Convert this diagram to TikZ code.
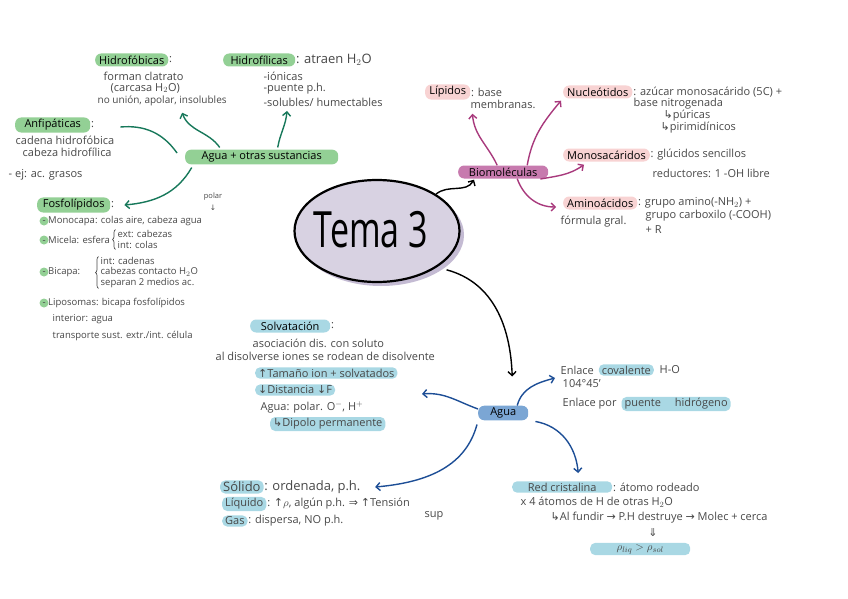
\documentclass[tikz,border=0pt]{standalone}
\usepackage{fontspec}
\setmainfont{Open Sans}
\newfontfamily\symf{DejaVu Sans}
\usetikzlibrary{arrows.meta,shapes.geometric,positioning,decorations.pathreplacing}
\definecolor{tinta}{HTML}{474747}
\definecolor{verde}{HTML}{93D095}
\definecolor{verdeo}{HTML}{17785A}
\definecolor{lila}{HTML}{D8D2E2}
\definecolor{lilao}{HTML}{C4BBD3}
\definecolor{fucsia}{HTML}{C77AAE}
\definecolor{fucsiao}{HTML}{A8397C}
\definecolor{rosa}{HTML}{F8D3D3}
\definecolor{azul}{HTML}{7BA6D4}
\definecolor{azulo}{HTML}{1D4E96}
\definecolor{celeste}{HTML}{A9D8E4}
\newcommand{\flup}{{\symf ↑}}
\newcommand{\fldown}{{\symf ↓}}
\newcommand{\flsub}{{\symf ↳}}
\newcommand{\flimp}{{\symf ⇒}}
\newcommand{\flder}{{\symf →}}
\newcommand{\flabajo}{{\symf ⇓}}
\newcommand{\grande}{\fontsize{13}{14}\selectfont}
\newcommand{\chico}{\fontsize{10}{11}\selectfont}
\newcommand{\mini}{\fontsize{9.5}{10}\selectfont}
\tikzset{
  every node/.style={font=\fontsize{11}{12}\selectfont, text=tinta, inner sep=0.5pt},
  txt/.style={anchor=west},
  pill/.style={fill=#1, rounded corners=6pt, minimum height=13pt, inner xsep=4pt,
    inner ysep=2pt, anchor=west, text=black},
  hl/.style={fill=#1, rounded corners=5pt, inner xsep=3pt, inner ysep=1.5pt, anchor=west},
  link/.style={draw=#1, line width=1.4pt, -{Straight Barb[length=4pt,width=8pt]}},
  llave/.style={draw=tinta, line width=0.7pt, decorate, decoration={brace, amplitude=3pt}},
}
\begin{document}
\begin{tikzpicture}[x=1pt,y=1pt]
\useasboundingbox (0,0) rectangle (848,-599);

% Tema central
\fill[lilao] (381,-235) ellipse [x radius=83pt, y radius=51pt];
\node[ellipse, draw=black, line width=2.2pt, fill=lila, minimum width=165pt,
  minimum height=102pt, inner sep=0pt] (tema) at (377,-231) {};
\node[text=black] (tematxt) at (371,-230) {\scalebox{0.68}[1]{\fontsize{50}{50}\selectfont Tema 3}};

% Agua + otras sustancias
\node[pill=verde, minimum width=153pt] (agotras) at (185,-157) {Agua + otras sustancias};

\node[pill=verde, minimum width=70pt] (hfob) at (95,-60) {Hidrofóbicas};
\node[right=0pt of hfob] (hfobc) {:};
\node[txt] (clatr) at (103,-76) {forman clatrato};
\node[txt] (carc) at (110,-88) {(carcasa H$_2$O)};
\node[txt, font=\chico] (nounion) at (97,-101) {no unión, apolar, insolubles};

\node[pill=verde, minimum width=72pt] (hfil) at (223,-60) {Hidrofílicas};
\node[right=0pt of hfil, font=\grande] (hfilt) {: atraen H$_2$O};
\node[txt] (ionic) at (263,-76) {-iónicas};
\node[txt] (puen) at (263,-89) {-puente p.h.};
\node[txt] (solub) at (263,-102) {-solubles/ humectables};

\node[pill=verde, minimum width=75pt] (anfi) at (15,-125) {Anfipáticas};
\node[right=0pt of anfi] (anfic) {:};
\node[txt] (cadh) at (15,-140) {cadena hidrofóbica};
\node[txt] (cabh) at (22,-152) {cabeza hidrofílica};
\node[txt] (ej) at (8,-175) {- ej: ac. grasos};

\node[pill=verde, minimum width=73pt] (fosfo) at (37,-205) {Fosfolípidos};
\node[right=0pt of fosfo] (fosfoc) {:};
\node[font=\fontsize{7.5}{8}\selectfont] (polar) at (213,-197) {polar};
\node[font=\fontsize{7.5}{8}\selectfont] (polarf) at (213,-208) {\fldown};
\fill[verde] (44,-221) circle (4.5pt);
\node[txt, font=\mini] (monoc) at (42,-221) {- Monocapa: colas aire, cabeza agua};
\fill[verde] (44,-240) circle (4.5pt);
\node[txt, font=\mini] (micela) at (42,-240) {- Micela: esfera};
\node[txt, font=\mini] (micext) at (117,-234) {ext: cabezas};
\node[txt, font=\mini] (micint) at (117,-245) {int: colas};
\draw[llave] ([xshift=-1.5pt]micint.south west) -- ([xshift=-1.5pt]micext.north west);
\fill[verde] (44,-272) circle (4.5pt);
\node[txt, font=\mini] (bicapa) at (42,-272) {- Bicapa:};
\node[txt, font=\mini] (bic1) at (100,-261) {int: cadenas};
\node[txt, font=\mini] (bic2) at (100,-272) {cabezas contacto H$_2$O};
\node[txt, font=\mini] (bic3) at (100,-283) {separan 2 medios ac.};
\draw[llave] ([xshift=-1.5pt]bic3.south west) -- ([xshift=-1.5pt]bic1.north west);
\fill[verde] (44,-303) circle (4.5pt);
\node[txt, font=\mini] (lipos) at (42,-303) {- Liposomas: bicapa fosfolípidos};
\node[txt, font=\mini] (inter) at (52,-319) {interior: agua};
\node[txt, font=\mini] (transp) at (52,-336) {transporte sust. extr./int. célula};

\draw[link=verdeo] ([xshift=-42pt,yshift=2pt]agotras.north) to[out=125,in=-70] ([xshift=20pt,yshift=-6pt]nounion.south);
\draw[link=verdeo] ([xshift=16pt,yshift=2pt]agotras.north) to[out=80,in=-95] ([xshift=24pt,yshift=-4pt]solub.south west);
\draw[verdeo, line width=1.4pt] ([xshift=30pt,yshift=-2pt]anfi.east) to[out=5,in=125] ([xshift=-8pt,yshift=4pt]agotras.west);
\draw[link=verdeo] ([xshift=-70pt,yshift=-3pt]agotras.south) to[out=-120,in=5] ([xshift=14pt]fosfo.east);

% Biomoleculas
\node[pill=fucsia, minimum width=90pt] (bio) at (458,-172) {Biomoléculas};
\draw[link=black] (tema.32) to[out=40,in=-120] ([xshift=16pt,yshift=-1pt]bio.south west);

\node[pill=rosa, minimum width=45pt] (lip) at (425,-92) {Lípidos};
\node[right=0pt of lip] (lipt) {: base};
\node[txt] (memb) at (470,-104) {membranas.};

\node[pill=rosa, minimum width=62pt] (nuc) at (563,-92) {Nucleótidos};
\node[right=0pt of nuc] (nuct) {: azúcar monosacárido (5C) +};
\node[txt] (nucb) at (633,-104) {base nitrogenada};
\node[txt] (pur) at (663,-116) {\flsub púricas};
\node[txt] (pirim) at (660,-128) {\flsub pirimidínicos};

\node[pill=rosa, minimum width=82pt] (mono) at (563,-155) {Monosacáridos};
\node[right=0pt of mono] (monot) {: glúcidos sencillos};
\node[txt] (reduc) at (652,-173) {reductores: 1 -OH libre};

\node[pill=rosa, minimum width=67pt] (amino) at (563,-203) {Aminoácidos};
\node[right=0pt of amino] (aminot) {: grupo amino(-NH$_2$) +};
\node[txt] (formula) at (560,-222) {fórmula gral.};
\node[txt] (carbox) at (645,-216) {grupo carboxilo (-COOH)};
\node[txt] (masr) at (645,-230) {+ R};

\draw[link=fucsiao] ([xshift=-6pt]bio.north) to[out=115,in=-85] ([xshift=2pt,yshift=-14pt]lip.south east);
\draw[link=fucsiao] ([xshift=24pt]bio.north) to[out=80,in=-130] ([xshift=-2pt,yshift=-2pt]nuc.south west);
\draw[link=fucsiao] ([xshift=-8pt,yshift=-7pt]bio.east) to[out=10,in=-145] ([xshift=21pt,yshift=-3pt]mono.south west);
\draw[link=fucsiao] ([xshift=14pt]bio.south) to[out=-70,in=180] ([xshift=-7pt,yshift=-4pt]amino.west);

% Agua
\node[pill=azul, minimum width=50pt] (agua) at (478,-413) {Agua};
\draw[link=black] ([xshift=6pt,yshift=-5pt]tema.-28) to[out=-15,in=92] ([xshift=9pt,yshift=29pt]agua.north);

\node[txt] (enl) at (560,-370) {Enlace};
\node[hl=celeste, right=4pt of enl] (cov) {covalente};
\node[right=5pt of cov] (ho) {H-O};
\node[txt] (ang) at (562,-384) {104°45'};
\node[txt] (enlp) at (562,-404) {Enlace por};
\node[hl=celeste, right=4pt of enlp] (puenh) {puente \quad hidrógeno};

\node[pill=celeste, minimum width=80pt] (solv) at (250,-326) {Solvatación};
\node[right=0pt of solv] (solvc) {:};
\node[txt] (asoc) at (252,-343) {asociación dis. con soluto};
\node[txt] (disol) at (215,-356) {al disolverse iones se rodean de disolvente};
\node[hl=celeste] (tam) at (255,-373) {\flup Tamaño ion + solvatados};
\node[hl=celeste] (dist) at (255,-390) {\fldown Distancia \fldown F};
\node[txt] (agpol) at (260,-407) {Agua: polar. O$^-$, H$^+$};
\node[hl=celeste] (dipolo) at (270,-424) {\flsub Dipolo permanente};
\coordinate (solvp) at (422,-394);

\node[hl=celeste, font=\grande] (sol) at (220,-487) {Sólido};
\node[right=0pt of sol, font=\grande] (solt) {: ordenada, p.h.};
\node[hl=celeste] (liq) at (222,-504) {Líquido};
\node[right=0pt of liq] (liqt) {: \flup$\rho$, algún p.h. \flimp\ \flup Tensión};
\node[txt] (sup) at (424,-516) {sup};
\node[hl=celeste] (gas) at (222,-521) {Gas};
\node[right=0pt of gas] (gast) {: dispersa, NO p.h.};

\node[hl=celeste, minimum width=100pt] (red) at (512,-487) {Red cristalina};
\node[right=0pt of red] (redt) {: átomo rodeado};
\node[txt] (x4) at (520,-502) {x 4 átomos de H de otras H$_2$O};
\node[txt] (fundir) at (550,-518) {\flsub Al fundir \flder\ P.H destruye \flder\ Molec + cerca};
\node (impl) at (653,-533) {\flabajo};
\node[hl=celeste, minimum width=100pt] (rho) at (590,-549) {$\rho_{liq} > \rho_{sol}$};

\draw[link=azulo] ([xshift=14pt]agua.north) to[out=75,in=195] ([xshift=-5pt,yshift=-8pt]enl.west);
\draw[link=azulo] ([yshift=4pt]agua.west) to[out=160,in=5] (solvp);
\draw[link=azulo] ([xshift=-1pt,yshift=-4pt]agua.south west) to[out=-105,in=5] ([xshift=14pt]solt.east);
\draw[link=azulo] ([xshift=7pt,yshift=-1pt]agua.south east) to[out=-10,in=95] ([xshift=16pt,yshift=8pt]red.north);
\end{tikzpicture}
\end{document}
